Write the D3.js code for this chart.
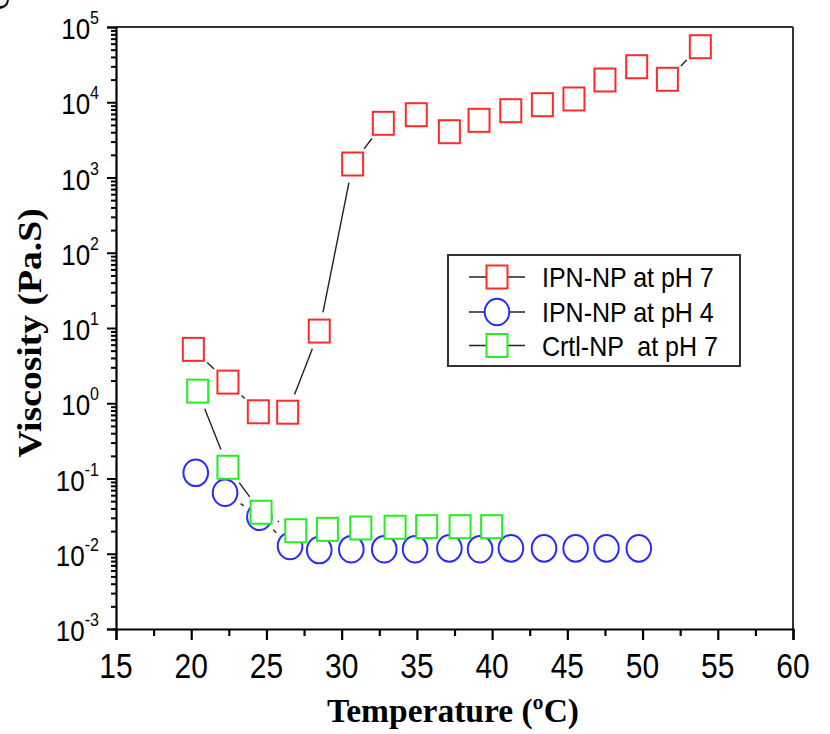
<!DOCTYPE html>
<html><head><meta charset="utf-8">
<script src="https://cdn.jsdelivr.net/npm/d3@7"></script>
<style>body{margin:0;background:#fff}svg{display:block}</style>
</head><body>
<svg id="c" width="830" height="734"></svg>
<script>
// ---- data ----
const redT = [20.14,22.44,24.46,26.41,28.51,30.73,32.77,34.96,37.16,39.13,41.24,43.34,45.44,47.5,49.61,51.65,53.84];
const redV = [5.2,1.91,0.77,0.76,9.1,1511,5250,6830,4060,5750,7720,9280,11050,19760,29660,20200,54700];
const blueT = [20.3,22.25,24.53,26.57,28.51,30.64,32.83,34.88,37.16,39.2,41.25,43.45,45.55,47.6,49.75];
const blueV = [0.119,0.0647,0.031,0.0127,0.0112,0.0115,0.0115,0.0115,0.0118,0.0115,0.0118,0.0118,0.0118,0.0118,0.0118];
const greenT = [20.43,22.44,24.64,26.95,29.05,31.27,33.55,35.65,37.87,39.97];
const greenV = [1.45,0.141,0.0356,0.0202,0.0211,0.022,0.0225,0.0229,0.0229,0.0229];
const seriesNames = ["IPN-NP at pH 7","IPN-NP at pH 4","Crtl-NP  at pH 7"];
const xTickValues = [15,20,25,30,35,40,45,50,55,60];
const yExponents = [-3,-2,-1,0,1,2,3,4,5];
const xTitle = "Temperature (ºC)";
const yTitle = "Viscosity (Pa.S)";

const svg = d3.select("#c");
const L=116,R=793,T=27,B=629;
const x = d3.scaleLinear().domain([15,60]).range([L,R]);
const y = d3.scaleLog().domain([1e-3,1e5]).range([B,T]);
const SY = 1.14;

// fragment of a cropped panel label in the corner
svg.append("path").attr("d","M0,6 Q6,6 7,0 L9,0 Q8,8 0,9 Z").attr("fill","#111");

// frame top/right
svg.append("line").attr("x1",L).attr("x2",R).attr("y1",T).attr("y2",T).attr("stroke","#333").attr("stroke-width",2);
svg.append("line").attr("x1",R).attr("x2",R).attr("y1",T).attr("y2",B).attr("stroke","#333").attr("stroke-width",2);

// x axis
const minorX = d3.range(17.5,60,5);
const gx = svg.append("g").attr("transform",`translate(0,${B})`);
gx.call(d3.axisBottom(x).tickValues(xTickValues).tickSize(11).tickFormat(""));
gx.append("g").call(d3.axisBottom(x).tickValues(minorX).tickSize(7).tickFormat(""));
gx.selectAll("g g path").remove();
gx.selectAll("path").attr("stroke","#000").attr("stroke-width",2.2);
gx.selectAll("line").attr("stroke","#000").attr("stroke-width",2.2);
svg.selectAll(".xl").data(xTickValues).join("text").attr("class","xl")
  .attr("transform",d=>`translate(${x(d)},678) scale(1,${SY})`)
  .attr("text-anchor","middle").attr("font-family","Liberation Sans, Arial").attr("font-size",30).text(d=>d);

// y axis
const minorY = [];
yExponents.slice(0,-1).forEach(e=>{for(let k=2;k<=9;k++) minorY.push(k*Math.pow(10,e));});
const gy = svg.append("g").attr("transform",`translate(${L},0)`);
gy.call(d3.axisLeft(y).tickValues(yExponents.map(e=>Math.pow(10,e))).tickSize(9).tickFormat(""));
gy.append("g").call(d3.axisLeft(y).tickValues(minorY).tickSize(5).tickFormat(""));
gy.selectAll("g g path").remove();
gy.selectAll("path").attr("stroke","#000").attr("stroke-width",2.2);
gy.selectAll("line").attr("stroke","#000").attr("stroke-width",2);
const yl = svg.selectAll(".yl").data(yExponents).join("text").attr("class","yl")
  .attr("transform",d=>`translate(99,${y(Math.pow(10,d))+12}) scale(1,${SY})`)
  .attr("text-anchor","end").attr("font-family","Liberation Sans, Arial").attr("font-size",26);
yl.append("tspan").text("10");
yl.append("tspan").attr("font-size",16).attr("dy",-13).text(d=>d);

// titles
svg.append("text").attr("transform",`translate(453,722)`).attr("text-anchor","middle")
  .attr("font-family","Liberation Serif, Times New Roman").attr("font-weight","bold").attr("font-size",33.5).text(xTitle);
svg.append("text").attr("transform",`translate(41,333) rotate(-90) scale(${SY},1)`).attr("text-anchor","middle")
  .attr("font-family","Liberation Serif, Times New Roman").attr("font-weight","bold").attr("font-size",33).text(yTitle);

// series
const series = [
  {t:redT,v:redV,color:"#ff2a2a",shape:"sq"},
  {t:blueT,v:blueV,color:"#2a2aff",shape:"ci"},
  {t:greenT,v:greenV,color:"#22ee22",shape:"sq"}
];
const GAP=19;
series.forEach(s=>{
  const pts = s.t.map((t,i)=>[x(t),y(s.v[i])]);
  const segs=[];
  for(let i=0;i<pts.length-1;i++){
    const [x1,y1]=pts[i],[x2,y2]=pts[i+1];
    const d=Math.hypot(x2-x1,y2-y1);
    if(d>2*GAP){const ux=(x2-x1)/d,uy=(y2-y1)/d;segs.push([x1+ux*GAP,y1+uy*GAP,x2-ux*GAP,y2-uy*GAP]);}
  }
  svg.append("g").selectAll("line").data(segs).join("line")
    .attr("x1",d=>d[0]).attr("y1",d=>d[1]).attr("x2",d=>d[2]).attr("y2",d=>d[3])
    .attr("stroke","#222").attr("stroke-width",1.4);
});
function marker(g,shape,color,cx,cy){
  if(shape==="sq") g.append("rect").attr("x",cx-10.5).attr("y",cy-11.5).attr("width",21).attr("height",23)
    .attr("fill","#fff").attr("stroke",color).attr("stroke-width",2);
  else g.append("ellipse").attr("cx",cx).attr("cy",cy).attr("rx",12.3).attr("ry",13.3)
    .attr("fill","#fff").attr("stroke",color).attr("stroke-width",2);
}
series.forEach(s=>{
  const g=svg.append("g");
  s.t.forEach((t,i)=>marker(g,s.shape,s.color,x(t),y(s.v[i])));
});

// legend
const lg = svg.append("g");
lg.append("rect").attr("x",448).attr("y",255).attr("width",292).attr("height",111).attr("fill","#fff").attr("stroke","#333").attr("stroke-width",2);
const rows=[277,312,345.5];
series.forEach((s,i)=>{
  lg.append("line").attr("x1",469).attr("x2",525).attr("y1",rows[i]).attr("y2",rows[i]).attr("stroke","#222").attr("stroke-width",1.5);
  marker(lg,s.shape,s.color,497,rows[i]);
  lg.append("text").attr("transform",`translate(542,${rows[i]+10}) scale(1,${SY})`).style("white-space","pre")
    .attr("font-family","Liberation Sans, Arial").attr("font-size",25).text(seriesNames[i]);
});
</script>
</body></html>
